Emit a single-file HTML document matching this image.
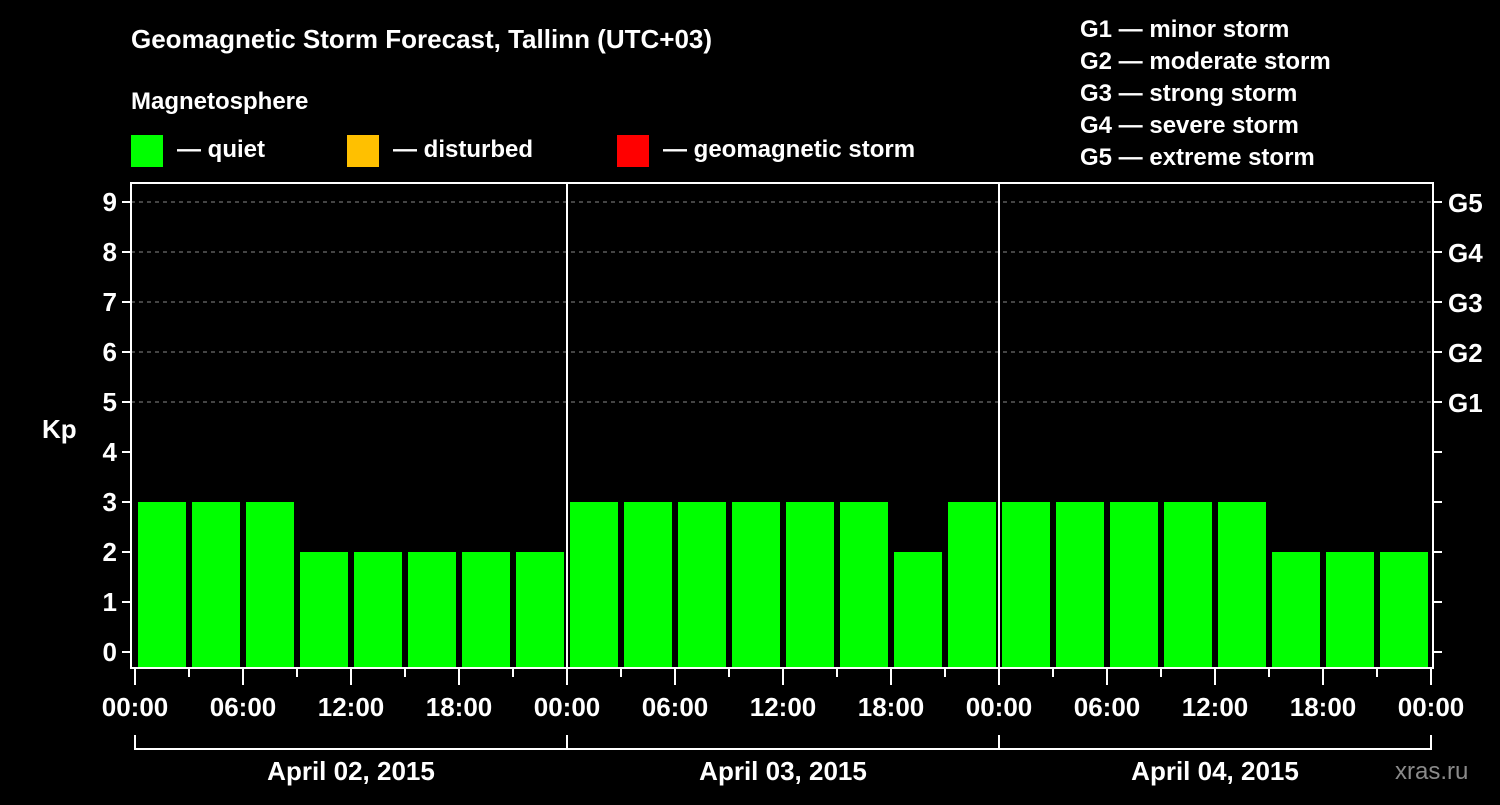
<!DOCTYPE html>
<html><head><meta charset="utf-8"><style>
body{margin:0;background:#000;width:1500px;height:800px;overflow:hidden}
svg text{font-family:"Liberation Sans",Arial,sans-serif;font-weight:bold;fill:#fff}
</style></head><body>
<svg id="c" width="1500" height="800">
<rect width="1500" height="800" fill="#000"/>
<text x="131" y="48" font-size="26">Geomagnetic Storm Forecast, Tallinn (UTC+03)</text>
<text x="131" y="109" font-size="24">Magnetosphere</text>
<rect x="131" y="135" width="32" height="32" fill="#00ff00"/>
<text x="177" y="157" font-size="24">— quiet</text>
<rect x="347" y="135" width="32" height="32" fill="#ffc000"/>
<text x="393" y="157" font-size="24">— disturbed</text>
<rect x="617" y="135" width="32" height="32" fill="#ff0000"/>
<text x="663" y="157" font-size="24">— geomagnetic storm</text>
<g font-size="24">
<text x="1080" y="37">G1 — minor storm</text>
<text x="1080" y="69">G2 — moderate storm</text>
<text x="1080" y="101">G3 — strong storm</text>
<text x="1080" y="133">G4 — severe storm</text>
<text x="1080" y="165">G5 — extreme storm</text>
</g>
<text x="42" y="438" font-size="26">Kp</text>
<g id="grid"></g><g id="bars"></g><g id="axes"></g>
<text x="1395" y="779" font-size="24" fill="#888" style="fill:#8a8a8a;font-weight:normal">xras.ru</text>
</svg>
<script>
const kpValues=[3,3,3,2,2,2,2,2, 3,3,3,3,3,3,2,3, 3,3,3,3,3,2,2,2];
const dayLabels=["April 02, 2015","April 03, 2015","April 04, 2015"];
const hourLabels=["00:00","06:00","12:00","18:00"];
const yTicks=[0,1,2,3,4,5,6,7,8,9];
const gLabels=["G1","G2","G3","G4","G5"];
const NS="http://www.w3.org/2000/svg";
const X0=135,SLOT=54,Y0=652,UNIT=50,BOX_L=131,BOX_R=1433,BOX_T=183,BOX_B=668;
const xs=i=>X0+i*SLOT, ys=v=>Y0-v*UNIT;
function mk(parent,tag,attrs){const e=document.createElementNS(NS,tag);for(const k in attrs)e.setAttribute(k,attrs[k]);document.getElementById(parent).appendChild(e);return e;}
yTicks.forEach(v=>{
 if(v>=5){const g=mk('grid','line',{x1:BOX_L,x2:BOX_R,y1:ys(v),y2:ys(v),stroke:'#888','stroke-dasharray':'4,4','stroke-width':1});
 
 }
 const t=mk('axes','line',{x1:BOX_L-9,x2:BOX_L,y1:ys(v),y2:ys(v),stroke:'#fff','stroke-width':2});
 
 
 const r=mk('axes','line',{x1:BOX_R,x2:BOX_R+9,y1:ys(v),y2:ys(v),stroke:'#fff','stroke-width':2});
 
 
 const l=mk('axes','text',{x:BOX_L-14,y:ys(v)+9,'text-anchor':'end','font-size':26});l.textContent=v;
 
 
});
gLabels.forEach((g,i)=>{const t=mk('axes','text',{x:1448,y:ys(5+i)+10,'font-size':26});t.textContent=g;
 
 });
kpValues.forEach((v,i)=>{
 const col=v>=5?'#ff0000':(v>=4?'#ffc000':'#00ff00');
 const b=mk('bars','rect',{x:xs(i)+3,y:ys(v),width:SLOT-6,height:BOX_B-ys(v),fill:col});
 
 
});
const box=mk('axes','rect',{x:BOX_L,y:BOX_T,width:BOX_R-BOX_L,height:BOX_B-BOX_T,fill:'none',stroke:'#fff','stroke-width':2});


for(let d=1;d<dayLabels.length;d++){const l=mk('axes','line',{x1:xs(d*8),x2:xs(d*8),y1:BOX_T,y2:BOX_B,stroke:'#fff','stroke-width':2});
 
 }
for(let i=0;i<=kpValues.length;i++){
 const major=i%2===0;
 const t=mk('axes','line',{x1:xs(i),x2:xs(i),y1:BOX_B,y2:major?685:677,stroke:'#fff','stroke-width':2});
 
 
 if(major){const lb=mk('axes','text',{x:xs(i),y:716,'text-anchor':'middle','font-size':26});lb.textContent=hourLabels[(i/2)%4];
 
 }
}
const br=mk('axes','line',{x1:xs(0),x2:xs(kpValues.length),y1:749,y2:749,stroke:'#fff','stroke-width':2});


dayLabels.forEach((d,i)=>{
 [i*8,(i+1)*8].forEach(k=>{const v=mk('axes','line',{x1:xs(k),x2:xs(k),y1:735,y2:750,stroke:'#fff','stroke-width':2});
 
 });
 const t=mk('axes','text',{x:(xs(i*8)+xs(i*8+8))/2,y:780,'text-anchor':'middle','font-size':26});t.textContent=d;
 
 
});
</script>
</body></html>
